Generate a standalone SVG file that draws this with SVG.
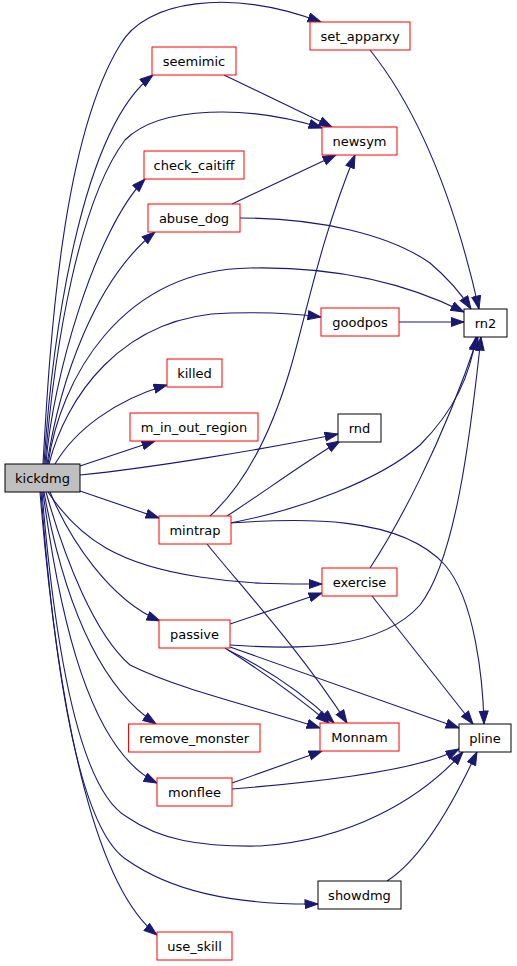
<svg xmlns="http://www.w3.org/2000/svg" width="517" height="966" viewBox="0 0 517 966">
<style>
.n rect{fill:#ffffff;stroke:#ff0000;stroke-width:1}
.n.b rect{stroke:#000000}
.n.root rect{fill:#bfbfbf;stroke:#000000}
.n text{font-family:"DejaVu Sans","Liberation Sans",sans-serif;font-size:13px;text-anchor:middle;fill:#000000}
#edges path{fill:none;stroke:#191970;stroke-width:1.1;marker-end:url(#a)}
</style>
<defs>
<marker id="a" markerWidth="15" markerHeight="11" refX="13.5" refY="5" orient="auto" markerUnits="userSpaceOnUse">
<path d="M0.5,0.5 L13.5,5 L0.5,9.5 z" fill="#191970" stroke="#191970" stroke-width="1"/>
</marker>
</defs>
<rect width="517" height="966" fill="#ffffff"/>
<g id="edges">
<path d="M43,464 C50,340 62,140 120,45 C145,0 230,-12 321,22"/>
<path d="M44,464 C52,340 80,130 153,75"/>
<path d="M45,464 C55,340 80,200 125,140 C160,105 250,105 322,128"/>
<path d="M46,464 C52,380 95,230 145,179"/>
<path d="M47,464 C60,380 95,280 155,232"/>
<path d="M48,464 C60,380 120,270 250,268 C350,266 420,290 464,312"/>
<path d="M49,464 C65,400 120,315 230,313 C270,312 300,314 321,317"/>
<path d="M55,464 C75,430 115,400 167,385"/>
<path d="M80,466 L155,441"/>
<path d="M80,475 C150,468 260,450 338,434"/>
<path d="M80,491 L159,518"/>
<path d="M48,492 C80,540 120,565 200,577 C250,585 290,584 322,584"/>
<path d="M50,492 C70,540 110,600 160,621"/>
<path d="M46,492 C65,560 95,635 130,665 C180,690 260,708 320,728"/>
<path d="M44,492 C60,580 90,680 156,724"/>
<path d="M43,492 C60,620 90,750 157,783"/>
<path d="M42,492 C55,650 80,790 127,817 C160,840 200,847 260,846 C350,840 420,800 463,752"/>
<path d="M41,492 C55,680 80,830 127,860 C170,890 230,905 318,904"/>
<path d="M40,492 C60,740 100,890 157,935"/>
<path d="M224,75 L332,127"/>
<path d="M232,204 L336,155"/>
<path d="M240,218 C320,218 390,235 430,263 C450,280 462,295 471,309"/>
<path d="M370,50 C410,100 450,180 479,309"/>
<path d="M399,322 L464,322"/>
<path d="M210,516 C250,480 275,420 290,370 C305,320 320,240 355,155"/>
<path d="M227,516 C260,495 300,465 340,441"/>
<path d="M230,523 C300,510 380,480 420,445 C455,410 470,375 476,337"/>
<path d="M230,523 C300,518 400,515 445,565 C475,600 483,680 484,724"/>
<path d="M207,544 C240,585 300,650 347,723"/>
<path d="M370,568 C395,530 440,450 478,337"/>
<path d="M372,596 L473,724"/>
<path d="M230,624 L322,593"/>
<path d="M230,645 C300,650 380,650 420,605 C455,560 470,440 481,337"/>
<path d="M230,647 L459,728"/>
<path d="M228,650 C265,668 300,690 334,723"/>
<path d="M225,648 C260,670 295,695 329,723"/>
<path d="M232,783 L322,751"/>
<path d="M232,789 C320,782 420,770 459,749"/>
<path d="M387,881 C420,860 450,810 477,752"/>
</g>
<g id="kickdmg" class="n root"><rect x="5" y="464" width="75" height="28"/><text x="42.5" y="482.5">kickdmg</text></g>
<g id="set_apparxy" class="n"><rect x="310" y="22" width="100" height="28"/><text x="360" y="40.5">set_apparxy</text></g>
<g id="seemimic" class="n"><rect x="152" y="47" width="84" height="28"/><text x="194" y="65.5">seemimic</text></g>
<g id="newsym" class="n"><rect x="322" y="127" width="75" height="28"/><text x="359.5" y="145.5">newsym</text></g>
<g id="check_caitiff" class="n"><rect x="144" y="151" width="100" height="28"/><text x="194" y="169.5">check_caitiff</text></g>
<g id="abuse_dog" class="n"><rect x="148" y="204" width="92" height="28"/><text x="194" y="222.5">abuse_dog</text></g>
<g id="rn2" class="n b"><rect x="464" y="309" width="43" height="28"/><text x="485.5" y="327.5">rn2</text></g>
<g id="goodpos" class="n"><rect x="321" y="308" width="78" height="28"/><text x="360" y="326.5">goodpos</text></g>
<g id="killed" class="n"><rect x="167" y="359" width="55" height="28"/><text x="194.5" y="377.5">killed</text></g>
<g id="m_in_out_region" class="n"><rect x="130" y="413" width="128" height="28"/><text x="194" y="431.5">m_in_out_region</text></g>
<g id="rnd" class="n b"><rect x="338" y="414" width="43" height="28"/><text x="359.5" y="432.5">rnd</text></g>
<g id="mintrap" class="n"><rect x="159" y="516" width="72" height="28"/><text x="195" y="534.5">mintrap</text></g>
<g id="exercise" class="n"><rect x="322" y="568" width="75" height="28"/><text x="359.5" y="586.5">exercise</text></g>
<g id="passive" class="n"><rect x="159" y="620" width="71" height="28"/><text x="194.5" y="638.5">passive</text></g>
<g id="remove_monster" class="n"><rect x="128.5" y="724" width="131.5" height="28"/><text x="194.25" y="742.5">remove_monster</text></g>
<g id="Monnam" class="n"><rect x="320" y="723" width="79" height="28"/><text x="359.5" y="741.5">Monnam</text></g>
<g id="pline" class="n b"><rect x="459" y="724" width="52" height="28"/><text x="485" y="742.5">pline</text></g>
<g id="monflee" class="n"><rect x="157" y="778" width="75" height="28"/><text x="194.5" y="796.5">monflee</text></g>
<g id="showdmg" class="n b"><rect x="318" y="881" width="83" height="28"/><text x="359.5" y="899.5">showdmg</text></g>
<g id="use_skill" class="n"><rect x="157" y="932" width="75" height="28"/><text x="194.5" y="950.5">use_skill</text></g>
</svg>
